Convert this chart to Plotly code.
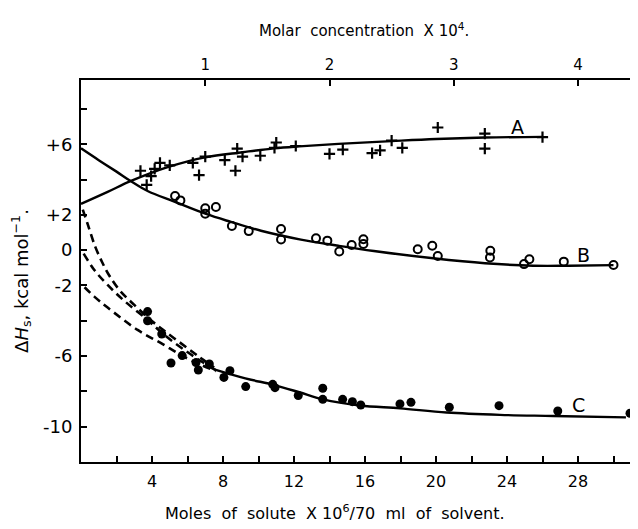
import plotly.graph_objects as go

# ---- data ----
# Series A (+ markers)
a_x = [3.35, 3.7, 3.95, 4.15, 4.45, 5.0, 6.3, 6.65, 7.0, 8.1, 8.7, 8.8, 9.1, 10.1, 10.9, 11.0,
       12.1, 14.0, 14.75, 16.4, 16.85, 17.5, 18.1, 20.1, 22.75, 22.75, 26.0]
a_y = [4.5, 3.7, 4.2, 4.6, 4.95, 4.8, 4.95, 4.25, 5.3, 5.1, 4.5, 5.75, 5.3, 5.35, 5.8, 6.1,
       5.9, 5.45, 5.7, 5.5, 5.65, 6.2, 5.8, 6.95, 6.6, 5.75, 6.4]
# Series B (open circles)
b_x = [5.3, 5.6, 7.0, 7.0, 7.6, 8.5, 9.45, 11.27, 11.27, 13.24, 13.88, 14.55, 15.25, 15.91, 15.91,
       18.97, 19.79, 20.1, 23.06, 23.04, 24.96, 25.26, 27.2, 30.0]
b_y = [3.07, 2.82, 2.37, 2.07, 2.45, 1.37, 1.08, 1.2, 0.6, 0.67, 0.54, -0.08, 0.29, 0.62, 0.35,
       0.05, 0.25, -0.33, -0.03, -0.42, -0.79, -0.51, -0.65, -0.84]
# Series C (filled circles)
c_x = [3.75, 3.75, 4.55, 5.07, 5.7, 6.48, 6.61, 7.23, 8.05, 8.39, 9.28, 10.8, 10.93, 12.24,
       13.62, 13.62, 14.74, 15.29, 15.76, 17.97, 18.59, 20.75, 23.55, 26.86, 30.93]
c_y = [-3.48, -4.0, -4.75, -6.39, -5.97, -6.37, -6.79, -6.45, -7.21, -6.83, -7.73, -7.6, -7.79, -8.23,
       -7.82, -8.45, -8.45, -8.58, -8.77, -8.71, -8.62, -8.9, -8.81, -9.11, -9.24]

# Smooth curves drawn through the data
curve_a_x = [0, 1.5, 2.82, 4.97, 6.99, 9.11, 10.89, 12.3, 14.5, 17.5, 20.0, 22.76, 26.0]
curve_a_y = [2.62, 3.3, 3.92, 4.73, 5.26, 5.55, 5.77, 5.88, 6.02, 6.18, 6.3, 6.38, 6.42]
curve_b_x = [0, 1.0, 2.0, 2.82, 3.75, 5.26, 7.04, 8.45, 10.14, 12.39, 14.5, 16.5, 19.85, 22.76, 25.48, 27.5, 30.0]
curve_b_y = [5.77, 5.1, 4.45, 3.9, 3.35, 2.75, 2.05, 1.6, 1.1, 0.6, 0.25, -0.05, -0.46, -0.74, -0.88, -0.88, -0.85]
curve_c_x = [7.5, 9.26, 10.89, 12.3, 13.62, 15.72, 17.97, 20.6, 23.6, 26.6, 30.7]
curve_c_y = [-6.75, -7.26, -7.64, -8.05, -8.45, -8.8, -8.96, -9.2, -9.33, -9.39, -9.47]
# Dashed extrapolations of C
dash1_x = [0.1, 0.4, 0.8, 1.2, 1.6, 2.2, 3.0, 3.8, 4.6, 5.6, 6.6, 7.5]
dash1_y = [2.3, 1.4, 0.2, -0.7, -1.45, -2.3, -3.1, -3.85, -4.5, -5.25, -6.0, -6.65]
dash2_x = [0.15, 0.75, 1.5, 2.44, 3.75, 4.69, 5.82, 6.95, 7.6]
dash2_y = [-0.2, -1.12, -1.97, -2.87, -3.95, -4.8, -5.65, -6.41, -6.8]
dash3_x = [0.2, 0.75, 1.5, 3.19, 4.51, 5.63, 6.76, 7.6]
dash3_y = [-2.1, -2.63, -3.25, -4.52, -5.27, -5.94, -6.5, -6.85]

y_tick_vals = [-10, -6, -2, 0, 2, 6]
y_tick_text = ["-10", "-6", "-2", "0", "+2", "+6"]
x_tick_vals = [4, 8, 12, 16, 20, 24, 28]
top_tick_vals = [1, 2, 3, 4]

X_MAX = 31.38
MOLAR_FACTOR = 7.0  # 70 ml: 7 x 10^-6 mol -> 1 x 10^-4 M

FONT = "DejaVu Sans"
fig = go.Figure()

line_style = dict(color="black", width=2.4)
fig.add_trace(go.Scatter(x=curve_a_x, y=curve_a_y, mode="lines", line=dict(line_style, shape="spline"), hoverinfo="skip"))
fig.add_trace(go.Scatter(x=curve_b_x, y=curve_b_y, mode="lines", line=dict(line_style, shape="spline"), hoverinfo="skip"))
fig.add_trace(go.Scatter(x=curve_c_x, y=curve_c_y, mode="lines", line=dict(line_style, shape="spline"), hoverinfo="skip"))
for dx, dy in [(dash1_x, dash1_y), (dash2_x, dash2_y), (dash3_x, dash3_y)]:
    fig.add_trace(go.Scatter(x=dx, y=dy, mode="lines",
                             line=dict(color="black", width=2.6, dash="8px,5px", shape="spline"),
                             hoverinfo="skip"))

fig.add_trace(go.Scatter(x=a_x, y=a_y, mode="markers", cliponaxis=False,
                         marker=dict(symbol="cross-thin", size=8, line=dict(color="black", width=2.2))))
fig.add_trace(go.Scatter(x=b_x, y=b_y, mode="markers", cliponaxis=False,
                         marker=dict(symbol="circle-open", size=8, color="black", line=dict(color="black", width=2))))
fig.add_trace(go.Scatter(x=c_x, y=c_y, mode="markers", cliponaxis=False,
                         marker=dict(symbol="circle", size=9, color="black")))
# molar-concentration view of the same points (invisible) so the top axis is drawn
fig.add_trace(go.Scatter(x=[v / MOLAR_FACTOR for v in c_x], y=c_y, xaxis="x2", mode="markers",
                         marker=dict(opacity=0), hoverinfo="skip"))

axis_common = dict(showgrid=False, zeroline=False, showline=True, linecolor="black", linewidth=2,
                   ticks="inside", ticklen=6, tickwidth=2, tickcolor="black",
                   tickfont=dict(family=FONT, size=16, color="black"))

fig.update_layout(
    width=638, height=529,
    margin=dict(l=73, r=8, t=72, b=75),
    paper_bgcolor="white", plot_bgcolor="white",
    showlegend=False,
    xaxis=dict(axis_common, range=[0, X_MAX], tickmode="array", tickvals=x_tick_vals,
               ticklabelstandoff=4,
               minor=dict(tickmode="linear", tick0=0, dtick=2, ticks="inside", ticklen=6,
                          tickwidth=2, tickcolor="black")),
    xaxis2=dict(axis_common, range=[0, X_MAX / MOLAR_FACTOR], overlaying="x", side="top",
                anchor="y", tickmode="array", tickvals=top_tick_vals, ticklabelstandoff=2,
                tickfont=dict(family=FONT, size=15, color="black")),
    yaxis=dict(axis_common, range=[-12, 9.64], tickmode="array", tickvals=y_tick_vals,
               ticktext=y_tick_text, ticklabelstandoff=3,
               tickfont=dict(family=FONT, size=18, color="black"),
               minor=dict(tickmode="linear", tick0=0, dtick=2, ticks="inside", ticklen=6,
                          tickwidth=2, tickcolor="black")),
)

fig.add_annotation(text="Molar  concentration  X 10<sup>4</sup>.", xref="paper", yref="paper",
                   x=0.508, y=1.131, xanchor="center", yanchor="middle", showarrow=False,
                   font=dict(family=FONT, size=15, color="black"))
fig.add_annotation(text="Moles  of  solute  X 10<sup>6</sup>/70  ml  of  solvent.", xref="paper", yref="paper",
                   x=0.456, y=-0.131, xanchor="center", yanchor="middle", showarrow=False,
                   font=dict(family=FONT, size=16, color="black"))
fig.add_annotation(text="Δ<i>H</i><sub>s</sub>, kcal mol<sup>−1</sup>.", xref="paper", yref="paper",
                   x=-0.1077, y=0.474, xanchor="center", yanchor="middle", textangle=-90, showarrow=False,
                   font=dict(family=FONT, size=18, color="black"))
for lbl, lx, ly in [("A", 24.6, 7.0), ("B", 28.3, -0.27), ("C", 28.05, -8.77)]:
    fig.add_annotation(text=lbl, x=lx, y=ly, xref="x", yref="y", showarrow=False,
                       font=dict(family=FONT, size=19, color="black"))

fig.write_html("out.html")
